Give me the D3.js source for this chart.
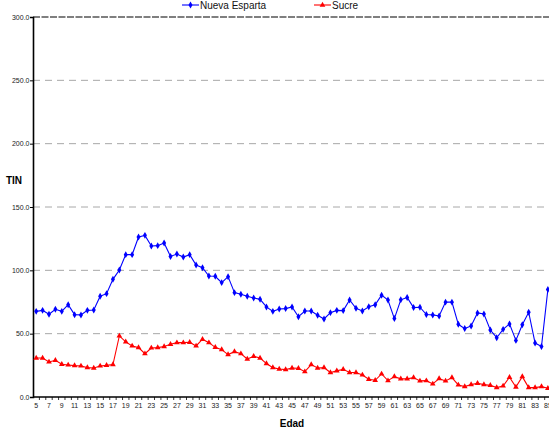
<!DOCTYPE html>
<html><head><meta charset="utf-8">
<script src="https://cdn.jsdelivr.net/npm/d3@7"></script>
<style>body{margin:0;background:#fff;overflow:hidden}svg{display:block;font-family:"Liberation Sans",Arial,sans-serif}</style>
</head><body><div id="chart"></div>
<script>
const ages = d3.range(5, 86);
const seriesNames = ["Nueva Esparta", "Sucre"];
const nuevaEsparta = [67.6,68.4,65.3,69.2,67.6,72.9,65.0,64.8,68.4,68.7,79.5,81.6,92.9,100.3,112.4,112.4,126.3,127.6,119.2,119.5,121.6,111.0,112.9,110.5,112.4,104.2,102.1,95.5,95.3,90.3,95.0,82.4,81.1,79.5,78.2,77.1,71.1,67.6,69.5,69.8,71.1,63.4,67.9,67.9,64.5,61.6,66.6,68.4,68.2,76.6,70.0,67.9,71.3,72.8,80.4,76.5,61.9,76.7,78.6,70.6,70.9,65.1,64.8,64.0,74.9,74.9,57.4,54.0,56.1,66.4,65.6,52.9,46.8,53.4,57.7,44.7,57.1,66.9,42.6,39.9,84.9];
const sucre = [30.8,30.8,27.7,29.0,25.8,25.3,24.8,24.5,23.2,22.9,24.5,25.0,25.6,48.2,43.5,40.3,39.0,34.2,38.7,39.0,39.8,41.6,42.9,42.9,43.2,40.3,45.6,42.9,39.2,37.4,33.5,35.8,34.2,30.0,32.1,30.8,26.4,23.2,22.1,21.6,22.9,22.7,20.0,25.6,22.9,23.2,19.3,20.6,21.9,19.3,19.3,17.4,14.0,13.2,18.2,12.9,16.1,14.3,14.3,15.3,12.7,12.9,10.3,14.5,12.7,15.3,9.5,8.2,9.8,10.8,9.8,9.2,7.4,8.7,15.6,7.9,16.1,7.4,7.4,8.2,6.9];
const yTicks = [0, 50, 100, 150, 200, 250, 300];
const xLabels = ages.filter(a => (a - 5) % 2 === 0);
const colors = ["#0000FF", "#FF0000"];

const W = 549, H = 434;
const svg = d3.select("#chart").append("svg").attr("width", W).attr("height", H);
const x = d3.scaleBand().domain(ages).range([33, 33 + 81 * 6.396]);
const y = d3.scaleLinear().domain([0, 300]).range([397, 17]);
const cx = a => x(a) + x.bandwidth() / 2;

// gridlines
svg.append("g").selectAll("line").data(yTicks.filter(t => t > 0)).join("line")
  .attr("x1", 33).attr("x2", W).attr("y1", d => y(d)).attr("y2", d => y(d))
  .attr("stroke", d => d === 300 ? "#555" : "#a8a8a8")
  .attr("stroke-width", d => d === 300 ? 1.3 : 1)
  .attr("stroke-dasharray", d => d === 300 ? "7,1.5" : "7,5");

// y axis
const yAxis = d3.axisLeft(y).tickValues(yTicks).tickSize(3).tickFormat(d3.format(".1f"));
const gy = svg.append("g").attr("transform", "translate(33,0)").call(yAxis);
gy.select(".domain").attr("stroke", "#000").attr("stroke-width", 1.6);
gy.selectAll(".tick line").attr("stroke", "#000");
gy.selectAll(".tick text").attr("font-size", 7).attr("fill", "#222").attr("x", -3.5)
  .attr("font-family", "Liberation Sans, Arial, sans-serif");

// x axis
const xAxis = d3.axisBottom(x).tickValues(xLabels).tickSize(0).tickPadding(6);
const gx = svg.append("g").attr("transform", "translate(0,397)").call(xAxis);
gx.select(".domain").remove();
gx.selectAll(".tick text").attr("font-size", 7).attr("fill", "#222")
  .attr("font-family", "Liberation Sans, Arial, sans-serif");
svg.append("line").attr("x1", 33).attr("x2", W).attr("y1", 397).attr("y2", 397)
  .attr("stroke", "#000").attr("stroke-width", 1.3);
svg.append("g").selectAll("line").data(ages).join("line")
  .attr("x1", d => x(d) + x.bandwidth()).attr("x2", d => x(d) + x.bandwidth())
  .attr("y1", 397).attr("y2", 400).attr("stroke", "#000").attr("stroke-width", 0.8);

// series
const seriesData = [nuevaEsparta, sucre];
const diamond = d3.symbol().type(d3.symbolDiamond).size(14);
const tri = d3.symbol().type(d3.symbolTriangle).size(14);
const symbols = [diamond, tri];
const line = d3.line().x((d, i) => cx(ages[i])).y(d => y(d));
seriesData.forEach((vals, k) => {
  svg.append("path").datum(vals).attr("d", line).attr("fill", "none")
    .attr("stroke", colors[k]).attr("stroke-width", 1.1);
  svg.append("g").selectAll("path").data(vals).join("path")
    .attr("transform", (d, i) => `translate(${cx(ages[i])},${y(d)})`)
    .attr("d", symbols[k]()).attr("fill", colors[k]);
});

// axis titles
svg.append("text").attr("x", 14).attr("y", 184).attr("text-anchor", "middle")
  .attr("font-size", 10).attr("font-weight", "bold").text("TIN");
svg.append("text").attr("x", 292).attr("y", 427).attr("text-anchor", "middle")
  .attr("font-size", 10).attr("font-weight", "bold").text("Edad");

// legend
const legX = [182, 314];
seriesNames.forEach((name, k) => {
  const g = svg.append("g").attr("transform", `translate(${legX[k]},5)`);
  g.append("line").attr("x1", 0).attr("x2", 17).attr("stroke", colors[k]).attr("stroke-width", 1.1);
  g.append("path").attr("transform", "translate(8.5,0)").attr("d", symbols[k]()).attr("fill", colors[k]);
  g.append("text").attr("x", 18).attr("y", 3.5).attr("font-size", 10).attr("fill", "#111").text(name);
});
</script></body></html>
